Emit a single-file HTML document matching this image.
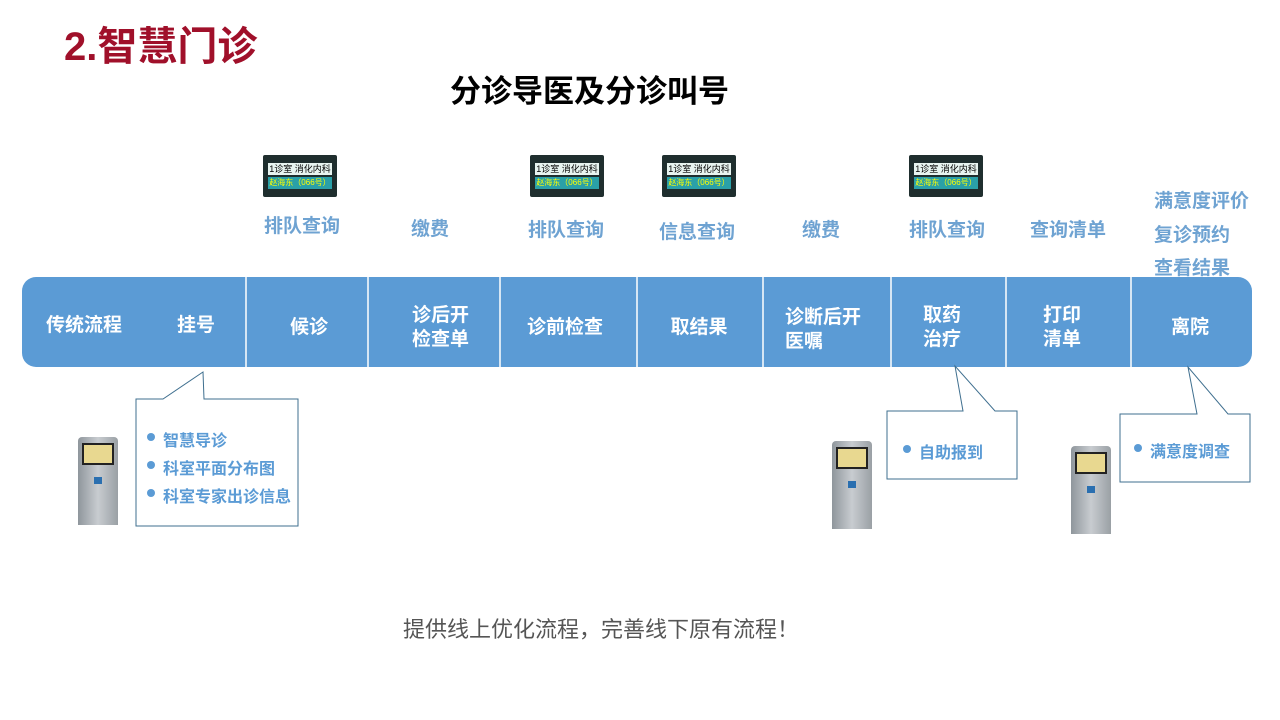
<!DOCTYPE html>
<html><head><meta charset="utf-8"><style>
body{margin:0;width:1280px;height:720px;background:#fff;position:relative;overflow:hidden;font-family:"Liberation Sans","Noto Sans CJK SC",sans-serif}
.a{position:absolute;white-space:nowrap}
.lab{color:#6fa3d2;font-size:19px;font-weight:bold}
.seg{position:absolute;color:#fff;font-size:19px;font-weight:bold;text-align:center;line-height:24px}
.scr{position:absolute;width:74px;height:42px;background:#1f2e2e;border-radius:2px}
.scr .t{position:absolute;left:5px;top:8px;width:64px;height:12px;background:#e8f4f0;font-size:9px;line-height:12px;color:#000;text-align:center}
.scr .b{position:absolute;left:5px;top:22px;width:64px;height:12px;background:#2aa0a8;font-size:8px;line-height:12px;color:#ff0;text-align:center}
.ki{position:absolute;width:40px;height:88px;background:linear-gradient(90deg,#8f969c,#c8ccd0,#9aa0a5);border-radius:4px 4px 0 0}
.ki:before{content:"";position:absolute;left:4px;top:6px;width:32px;height:22px;background:#e8d890;border:2px solid #222;box-sizing:border-box}
.ki:after{content:"";position:absolute;left:16px;top:40px;width:8px;height:7px;background:#2a6fb0}
.li{font-size:16px;color:#5b9bd5;font-weight:bold}
</style></head><body>
<div class="a" style="left:64px;top:14px;font-size:40px;font-weight:bold;color:#a0102a">2.智慧门诊</div>
<div class="a" style="left:450px;top:66px;font-size:31px;font-weight:bold;color:#000">分诊导医及分诊叫号</div>

<div class="scr" style="left:263px;top:155px"><div class="t">1诊室 消化内科</div><div class="b">赵海东（066号）</div></div>
<div class="scr" style="left:530px;top:155px"><div class="t">1诊室 消化内科</div><div class="b">赵海东（066号）</div></div>
<div class="scr" style="left:662px;top:155px"><div class="t">1诊室 消化内科</div><div class="b">赵海东（066号）</div></div>
<div class="scr" style="left:909px;top:155px"><div class="t">1诊室 消化内科</div><div class="b">赵海东（066号）</div></div>

<div class="a lab" style="left:264px;top:211px">排队查询</div>
<div class="a lab" style="left:411px;top:214px">缴费</div>
<div class="a lab" style="left:528px;top:215px">排队查询</div>
<div class="a lab" style="left:659px;top:217px">信息查询</div>
<div class="a lab" style="left:802px;top:215px">缴费</div>
<div class="a lab" style="left:909px;top:215px">排队查询</div>
<div class="a lab" style="left:1030px;top:215px">查询清单</div>
<div class="a lab" style="left:1154px;top:186px">满意度评价</div>
<div class="a lab" style="left:1154px;top:220px">复诊预约</div>
<div class="a lab" style="left:1154px;top:253px">查看结果</div>

<svg class="a" style="left:0;top:0" width="1280" height="720">
<rect x="22" y="277" width="1230" height="90" rx="14" fill="#5b9bd5"/>
<g stroke="#fff" stroke-width="1.5">
<line x1="246" y1="277" x2="246" y2="367"/><line x1="368" y1="277" x2="368" y2="367"/>
<line x1="500" y1="277" x2="500" y2="367"/><line x1="637" y1="277" x2="637" y2="367"/>
<line x1="763" y1="277" x2="763" y2="367"/><line x1="891" y1="277" x2="891" y2="367"/>
<line x1="1006" y1="277" x2="1006" y2="367"/><line x1="1131" y1="277" x2="1131" y2="367"/>
</g>
<g fill="#fff" stroke="#3f6f8f" stroke-width="1">
<path d="M136,399 H163 L203,372 L204,399 H298 V526 H136 Z"/>
<path d="M887,411 H963 L955,366 L995,411 H1017 V479 H887 Z"/>
<path d="M1120,414 H1197 L1188,367 L1228,414 H1250 V482 H1120 Z"/>
</g>
<g fill="#5b9bd5"><circle cx="151" cy="437" r="4"/><circle cx="151" cy="465" r="4"/><circle cx="151" cy="493" r="4"/><circle cx="907" cy="449" r="4"/><circle cx="1138" cy="448" r="4"/></g>
</svg>

<div class="seg" style="left:46px;top:314px">传统流程</div>
<div class="seg" style="left:177px;top:314px">挂号</div>
<div class="seg" style="left:246px;top:316px;width:126px">候诊</div>
<div class="seg" style="left:368px;top:304px;width:145px">诊后开<br>检查单</div>
<div class="seg" style="left:500px;top:316px;width:130px">诊前检查</div>
<div class="seg" style="left:637px;top:316px;width:124px">取结果</div>
<div class="seg" style="left:785px;top:306px;text-align:left">诊断后开<br>医嘱</div>
<div class="seg" style="left:891px;top:304px;width:102px">取药<br>治疗</div>
<div class="seg" style="left:1006px;top:304px;width:112px">打印<br>清单</div>
<div class="seg" style="left:1131px;top:316px;width:118px">离院</div>

<div class="a li" style="left:163px;top:427px">智慧导诊</div>
<div class="a li" style="left:163px;top:455px">科室平面分布图</div>
<div class="a li" style="left:163px;top:483px">科室专家出诊信息</div>
<div class="a li" style="left:919px;top:439px">自助报到</div>
<div class="a li" style="left:1150px;top:438px">满意度调查</div>

<div class="ki" style="left:78px;top:437px"></div>
<div class="ki" style="left:832px;top:441px"></div>
<div class="ki" style="left:1071px;top:446px"></div>

<div class="a" style="left:403px;top:612px;font-size:22px;color:#555">提供线上优化流程，完善线下原有流程！</div>
</body></html>
